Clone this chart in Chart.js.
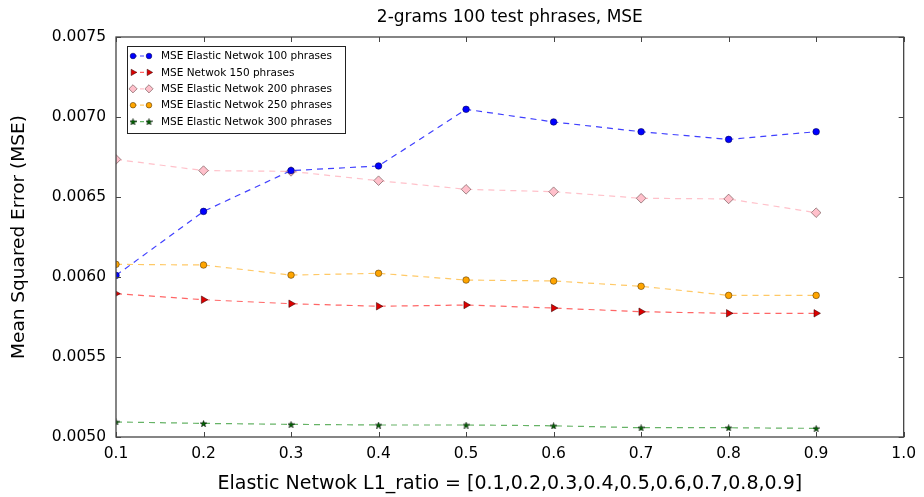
<!DOCTYPE html>
<html>
<head>
<meta charset="utf-8">
<script src="https://cdn.jsdelivr.net/npm/chart.js@4/dist/chart.umd.min.js"></script>
<style>
    body { margin: 0; background: #fff; }
    #wrap { width: 924px; height: 497px; }
</style>
</head>
<body>
<div id="wrap"><canvas id="mseChart" width="924" height="497"></canvas></div>
<script>
// l1 ratios on the x axis
const ratios = [0.1, 0.2, 0.3, 0.4, 0.5, 0.6, 0.7, 0.8, 0.9];

const mse100 = [0.00601, 0.00641, 0.006665, 0.006694, 0.007048, 0.006969, 0.006908, 0.00686, 0.006908];
const mse150 = [0.005896, 0.005858, 0.005833, 0.005817, 0.005825, 0.005806, 0.005783, 0.005773, 0.005773];
const mse200 = [0.006735, 0.006665, 0.00666, 0.006602, 0.006548, 0.006533, 0.006492, 0.006488, 0.006402];
const mse250 = [0.006079, 0.006075, 0.006012, 0.006023, 0.005981, 0.005975, 0.005942, 0.005885, 0.005885];
const mse300 = [0.005094, 0.005085, 0.005079, 0.005075, 0.005075, 0.00507, 0.005058, 0.005058, 0.005054];

const seriesNames = [
    'MSE Elastic Netwok 100 phrases',
    'MSE Netwok 150 phrases',
    'MSE Elastic Netwok 200 phrases',
    'MSE Elastic Netwok 250 phrases',
    'MSE Elastic Netwok 300 phrases'
];

const xTicks = [0.1, 0.2, 0.3, 0.4, 0.5, 0.6, 0.7, 0.8, 0.9, 1.0];
const yTicks = [0.0050, 0.0055, 0.0060, 0.0065, 0.0070, 0.0075];

const chartTitle = '2-grams 100 test phrases, MSE';
const xTitle = 'Elastic Netwok L1_ratio = [0.1,0.2,0.3,0.4,0.5,0.6,0.7,0.8,0.9]';
const yTitle = 'Mean Squared Error (MSE)';

const FONT = '"DejaVu Sans", sans-serif';

// filled star marker like matplotlib's '*'
function makeStar(size, fill) {
    const c = document.createElement('canvas');
    c.width = size; c.height = size;
    const g = c.getContext('2d');
    const cx = size / 2, cy = size / 2 + 0.5, R = size / 2, r = R * 0.42;
    g.beginPath();
    for (let i = 0; i < 10; i++) {
        const rad = i % 2 === 0 ? R : r;
        const a = -Math.PI / 2 + i * Math.PI / 5;
        g.lineTo(cx + rad * Math.cos(a), cy + rad * Math.sin(a));
    }
    g.closePath();
    g.fillStyle = fill;
    g.fill();
    g.lineWidth = 0.5;
    g.strokeStyle = '#000';
    g.stroke();
    return c;
}
const starImg = makeStar(7, '#006400');

function pts(vals) {
    return vals.map((v, i) => ({ x: ratios[i], y: v }));
}

const styles = [
    { line: 'rgba(0,0,255,0.75)', fill: '#0000ff', edge: 'rgba(0,0,80,0.8)', style: 'circle', r: 3.3, rot: 0 },
    { line: 'rgba(255,0,0,0.6)', fill: '#dd0000', edge: 'rgba(60,0,0,0.8)', style: 'triangle', r: 4.3, rot: 90 },
    { line: 'rgba(255,182,193,0.85)', fill: '#ffc0cb', edge: 'rgba(90,60,60,0.8)', style: 'rectRot', r: 4.8, rot: 0 },
    { line: 'rgba(255,165,0,0.6)', fill: '#ffa500', edge: 'rgba(80,50,0,0.8)', style: 'circle', r: 3.3, rot: 0 },
    { line: 'rgba(0,128,0,0.6)', fill: '#006400', edge: 'rgba(0,0,0,0.8)', style: starImg, r: 3.5, rot: 0 }
];

const allSeries = [mse100, mse150, mse200, mse250, mse300];

const datasets = allSeries.map((vals, i) => ({
    label: seriesNames[i],
    data: pts(vals),
    borderColor: styles[i].line,
    borderWidth: 1.2,
    borderDash: [6, 5],
    backgroundColor: styles[i].fill,
    pointBackgroundColor: styles[i].fill,
    pointBorderColor: styles[i].edge,
    pointBorderWidth: 0.7,
    pointStyle: styles[i].style,
    pointRadius: styles[i].r,
    pointRotation: styles[i].rot,
    fill: false,
    tension: 0
}));

// titles, frame, inward ticks and the legend box inside the plot
const decorPlugin = {
    id: 'decor',
    afterDraw(chart) {
        const ctx = chart.ctx;
        const a = chart.chartArea;
        const xs = chart.scales.x, ys = chart.scales.y;
        ctx.save();

        // frame
        ctx.strokeStyle = '#444';
        ctx.lineWidth = 1.3;
        ctx.strokeRect(a.left, a.top, a.right - a.left, a.bottom - a.top);

        // inward ticks on all four sides
        ctx.lineWidth = 1;
        ctx.strokeStyle = '#444';
        ctx.beginPath();
        xTicks.forEach(v => {
            const px = Math.round(xs.getPixelForValue(v)) + 0.5;
            ctx.moveTo(px, a.bottom); ctx.lineTo(px, a.bottom - 5);
            ctx.moveTo(px, a.top); ctx.lineTo(px, a.top + 5);
        });
        yTicks.forEach(v => {
            const py = Math.round(ys.getPixelForValue(v)) + 0.5;
            ctx.moveTo(a.left, py); ctx.lineTo(a.left + 5, py);
            ctx.moveTo(a.right, py); ctx.lineTo(a.right - 5, py);
        });
        ctx.stroke();

        // chart title
        ctx.fillStyle = '#000';
        ctx.textAlign = 'center';
        ctx.textBaseline = 'middle';
        ctx.font = '17px ' + FONT;
        ctx.fillText(chartTitle, (a.left + a.right) / 2, 18);

        // axis titles
        ctx.font = '19px ' + FONT;
        ctx.fillText(xTitle, (a.left + a.right) / 2, 484);
        ctx.save();
        ctx.translate(19, (a.top + a.bottom) / 2);
        ctx.rotate(-Math.PI / 2);
        ctx.font = '18.5px ' + FONT;
        ctx.fillText(yTitle, 0, 0);
        ctx.restore();

        // legend
        const bx = a.left + 11, by = a.top + 9, bw = 218, bh = 87;
        ctx.fillStyle = '#fff';
        ctx.fillRect(bx, by, bw, bh);
        ctx.strokeStyle = '#222';
        ctx.lineWidth = 1;
        ctx.strokeRect(bx + 0.5, by + 0.5, bw, bh);
        ctx.font = '10.5px ' + FONT;
        ctx.textAlign = 'left';
        chart.data.datasets.forEach((ds, i) => {
            const ry = by + 10 + i * 16.4;
            const m1 = bx + 6, m2 = bx + 22;
            ctx.save();
            ctx.strokeStyle = ds.borderColor;
            ctx.lineWidth = ds.borderWidth;
            ctx.setLineDash([4, 3]);
            ctx.beginPath();
            ctx.moveTo(m1, ry); ctx.lineTo(m2, ry);
            ctx.stroke();
            ctx.setLineDash([]);
            ctx.fillStyle = ds.pointBackgroundColor;
            ctx.strokeStyle = ds.pointBorderColor;
            ctx.lineWidth = ds.pointBorderWidth;
            const opts = {
                pointStyle: ds.pointStyle,
                radius: ds.pointRadius * 0.85,
                rotation: ds.pointRotation,
                borderWidth: ds.pointBorderWidth
            };
            Chart.helpers.drawPoint(ctx, opts, m1, ry);
            Chart.helpers.drawPoint(ctx, opts, m2, ry);
            ctx.restore();
            ctx.fillStyle = '#000';
            ctx.fillText(ds.label, bx + 34, ry + 0.5);
        });

        ctx.restore();
    }
};

new Chart(document.getElementById('mseChart').getContext('2d'), {
    type: 'line',
    data: { datasets: datasets },
    options: {
        responsive: false,
        animation: false,
        events: [],
        layout: { padding: { top: 37, right: 17, left: 0, bottom: 0 } },
        plugins: {
            legend: { display: false },
            title: { display: false },
            tooltip: { enabled: false }
        },
        scales: {
            x: {
                type: 'linear',
                min: 0.1,
                max: 1.0,
                afterFit: s => { s.height = 60; },
                afterBuildTicks: s => { s.ticks = xTicks.map(v => ({ value: v })); },
                grid: { display: false, drawTicks: false },
                border: { display: false },
                ticks: {
                    padding: 8,
                    color: '#000',
                    font: { family: FONT, size: 15.5 },
                    maxRotation: 0,
                    callback: v => Number(v).toFixed(1)
                }
            },
            y: {
                min: 0.005,
                max: 0.0075,
                afterFit: s => { s.width = 116; },
                afterBuildTicks: s => { s.ticks = yTicks.map(v => ({ value: v })); },
                grid: { display: false, drawTicks: false },
                border: { display: false },
                ticks: {
                    padding: 10,
                    color: '#000',
                    font: { family: FONT, size: 15.5 },
                    callback: v => Number(v).toFixed(4)
                }
            }
        }
    },
    plugins: [decorPlugin]
});
</script>
</body>
</html>
